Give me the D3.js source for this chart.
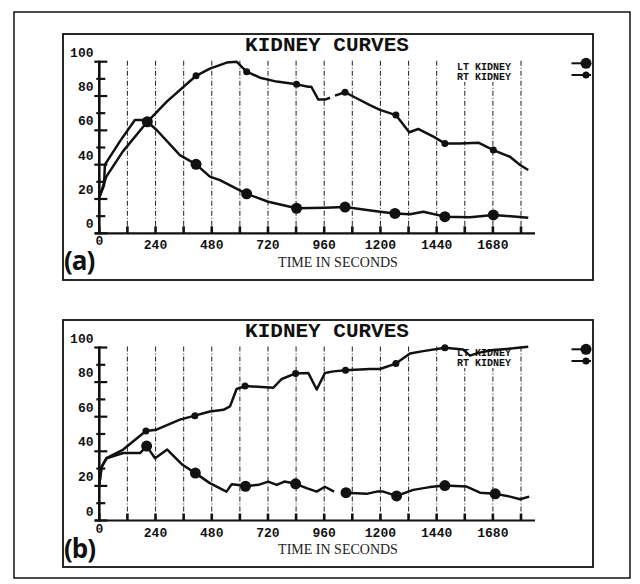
<!DOCTYPE html>
<html><head><meta charset="utf-8">
<script src="https://cdn.jsdelivr.net/npm/d3@7"></script>
<style>body{margin:0;background:#fff}</style>
</head><body><svg id="c" width="640" height="584"></svg>
<script>
// ---------- data ----------
const titleText = "KIDNEY CURVES";
const axisTitle = "TIME IN SECONDS";
const legendLabels = ["LT KIDNEY", "RT KIDNEY"];
const panelLabels = ["(a)", "(b)"];
const xTickMarks = [0,120,240,360,480,600,720,840,960,1080,1200,1320,1440,1560,1680,1800];
const xTickLabels = [0,240,480,720,960,1200,1440,1680];
const gridTimes = [120,240,360,480,600,720,840,960,1080,1200,1320,1440,1560,1680,1800];
const yTickLabels = [0,20,40,60,80,100];
const yMinorTicks = [10,30,50,70,90];

// panel (a)
const aLt = [[0,21],[12,25],[20,28],[24,40],[90,54],[152,66],[188,66],[205,65],[245,60.2],[344,45.6],[413,40.2],[472,33],[515,31],[629,23],[721,18.4],[842,14.6],[963,14.9],[1049,15.3],[1198,12.6],[1262,11.6],[1326,11.1],[1383,12.6],[1475,9.7],[1582,9.3],[1682,10.7],[1831,9.1]];
const aRt = [[0,21],[30,33],[100,47.6],[205,65],[288,76.7],[413,91.8],[472,96],[544,99.5],[586,100],[608,97],[629,94.2],[686,90.7],[757,88.4],[842,86.8],[892,85.4],[905,85.4],[935,77.9],[963,77.9],[985,79],null,[1006,80.2],[1049,82.2],[1098,78.7],[1155,74.7],[1198,71.9],[1266,68.9],[1323,58.9],[1361,60.8],[1426,56.3],[1475,52.4],[1539,52.4],[1618,52.8],[1682,48.5],[1753,44.6],[1796,39.8],[1831,36.9]];
const aLtMarks = [[205,65],[413,40.2],[629,23],[842,14.6],[1049,15.3],[1262,11.6],[1475,9.7],[1682,10.7]];
const aRtMarks = [[413,91.8],[629,94.2],[842,86.8],[1049,82.2],[1266,68.9],[1475,52.4],[1682,48.5]];

// panel (b)
const bLt = [[0,21],[10,31],[31,36],[102,39],[174,39],[202,43],[238,36],[290,41],[355,32.2],[410,27.4],[472,21.6],[530,17.5],[543,16.7],[565,21],[586,20.6],[624,19.8],[679,20.6],[721,22.5],[757,20.6],[790,22.5],[838,21.2],[885,18.7],[928,16.7],[963,19.5],[1002,16.7],null,[1053,16.1],[1141,15.4],[1184,16.7],[1212,16.7],[1269,14.2],[1340,17.7],[1411,19.3],[1475,20.2],[1568,19.6],[1625,16.1],[1690,15.4],[1753,13.8],[1796,12.3],[1835,13.8]];
const bRt = [[0,21],[10,31],[31,36],[102,41],[199,51.7],[244,52.5],[344,58.3],[408,60.6],[472,63],[530,64],[558,66],[586,76],[622,77.7],[743,76.8],[779,81.8],[838,85],[892,85.3],[928,75.7],[963,85.3],[1000,86.2],[1051,86.8],[1155,87.6],[1198,87.6],[1266,90.7],[1326,96.5],[1383,97.9],[1475,99.8],[1553,98.8],[1582,95.3],[1618,96.9],[1680,98.5],[1767,99.5],[1831,100.5]];
const bLtMarks = [[202,43],[410,27.4],[624,19.8],[838,21.2],[1053,16.1],[1269,14.2],[1475,20.2],[1690,15.4]];
const bRtMarks = [[199,51.7],[408,60.6],[622,77.7],[838,85],[1051,86.8],[1266,90.7],[1475,99.8]];

// ---------- drawing ----------
const svg = d3.select("#c");
svg.append("rect").attr("width",640).attr("height",584).attr("fill","#fff");
svg.append("rect").attr("x",14).attr("y",12).attr("width",616).attr("height",566)
  .attr("fill","none").attr("stroke","#111").attr("stroke-width",1.5);

const panels = [
  {label:panelLabels[0], lt:aLt, rt:aRt, ltM:aLtMarks, rtM:aRtMarks, top:34, y0:233.3, y100:61.7, bottom:280},
  {label:panelLabels[1], lt:bLt, rt:bRt, ltM:bLtMarks, rtM:bRtMarks, top:320, y0:520.5, y100:347.5, bottom:567}
];

const mono = "'Liberation Mono','DejaVu Sans Mono',monospace";

panels.forEach(p => {
  const g = svg.append("g");
  const x = d3.scaleLinear().domain([0,1800]).range([99.3,521]);
  const y = d3.scaleLinear().domain([0,100]).range([p.y0,p.y100]);

  // panel border
  g.append("rect").attr("x",63).attr("y",p.top).attr("width",530).attr("height",p.bottom-p.top)
    .attr("fill","none").attr("stroke","#111").attr("stroke-width",1.8);

  // title
  g.append("text").attr("x",327).attr("y",p.top+17).attr("text-anchor","middle")
    .attr("font-family",mono).attr("font-weight","bold").attr("font-size",21)
    .attr("fill","#111").text(titleText);

  // gridlines
  g.selectAll(".grid").data(gridTimes).enter().append("line")
    .attr("x1",d=>x(d)).attr("x2",d=>x(d))
    .attr("y1",y(100)-1).attr("y2",y(0)-7)
    .attr("stroke","#333").attr("stroke-width",1.1).attr("stroke-dasharray","5,2,1,2");

  // legend background + text
  g.append("rect").attr("x",455).attr("y",p.top+26).attr("width",62).attr("height",22).attr("fill","#fff");
  legendLabels.forEach((t,i)=>{
    g.append("text").attr("x",457).attr("y",p.top+35.5+i*10)
      .attr("font-family",mono).attr("font-weight","bold").attr("font-size",10)
      .attr("fill","#111").text(t);
  });
  // legend symbols
  [[p.top+29.3,5.5],[p.top+41,3.5]].forEach(([ly,r])=>{
    g.append("line").attr("x1",571.5).attr("x2",591).attr("y1",ly).attr("y2",ly)
      .attr("stroke","#111").attr("stroke-width",2);
    g.append("circle").attr("cx",586).attr("cy",ly).attr("r",r).attr("fill","#111");
  });

  // x axis
  g.append("line").attr("x1",95).attr("x2",535).attr("y1",y(0)).attr("y2",y(0))
    .attr("stroke","#111").attr("stroke-width",2.2);
  g.selectAll(".xt").data(xTickMarks).enter().append("line")
    .attr("x1",d=>x(d)).attr("x2",d=>x(d)).attr("y1",y(0)).attr("y2",y(0)-7)
    .attr("stroke","#111").attr("stroke-width",2.6);
  g.selectAll(".xl").data(xTickLabels).enter().append("text")
    .attr("x",d=>x(d)).attr("y",d=> d===0 ? y(0)+12 : y(0)+16)
    .attr("text-anchor","middle").attr("font-family",mono).attr("font-weight","bold")
    .attr("font-size",13).attr("fill","#111").text(d=>d);

  // y axis
  g.append("line").attr("x1",x(0)).attr("x2",x(0)).attr("y1",y(0)+1).attr("y2",y(100)-1)
    .attr("stroke","#111").attr("stroke-width",2.6);
  g.selectAll(".ymaj").data(yTickLabels).enter().append("line")
    .attr("x1",x(0)-5).attr("x2",x(0)+8).attr("y1",d=>y(d)).attr("y2",d=>y(d))
    .attr("stroke","#111").attr("stroke-width",2.2);
  g.selectAll(".ymin").data(yMinorTicks).enter().append("line")
    .attr("x1",x(0)-3).attr("x2",x(0)+6).attr("y1",d=>y(d)).attr("y2",d=>y(d))
    .attr("stroke","#111").attr("stroke-width",2.2);
  g.selectAll(".yl").data(yTickLabels).enter().append("text")
    .attr("x",93.5).attr("y",d=>y(d)-5).attr("text-anchor","end")
    .attr("font-family",mono).attr("font-weight","bold").attr("font-size",13)
    .attr("fill","#111").text(d=>d);

  // axis title
  g.append("text").attr("x",338).attr("y",y(0)+33.5).attr("text-anchor","middle")
    .attr("font-family","'Liberation Serif','Times New Roman',serif").attr("font-size",14)
    .attr("fill","#222").text(axisTitle);

  // panel label
  g.append("text").attr("x",64).attr("y",y(0)+37)
    .attr("font-family","'Open Sans',sans-serif").attr("font-weight","bold").attr("font-size",26)
    .attr("letter-spacing",-1).attr("fill","#111").text(p.label);

  // curves
  const line = d3.line().defined(d=>d!==null).x(d=>x(d[0])).y(d=>y(d[1]));
  [p.lt,p.rt].forEach(s=>{
    g.append("path").attr("d",line(s)).attr("fill","none")
      .attr("stroke","#111").attr("stroke-width",2.5).attr("stroke-linejoin","round");
  });
  g.selectAll(".ltm").data(p.ltM).enter().append("circle")
    .attr("cx",d=>x(d[0])).attr("cy",d=>y(d[1])).attr("r",5.5).attr("fill","#111");
  g.selectAll(".rtm").data(p.rtM).enter().append("circle")
    .attr("cx",d=>x(d[0])).attr("cy",d=>y(d[1])).attr("r",3.5).attr("fill","#111");
});
</script>
</body></html>
